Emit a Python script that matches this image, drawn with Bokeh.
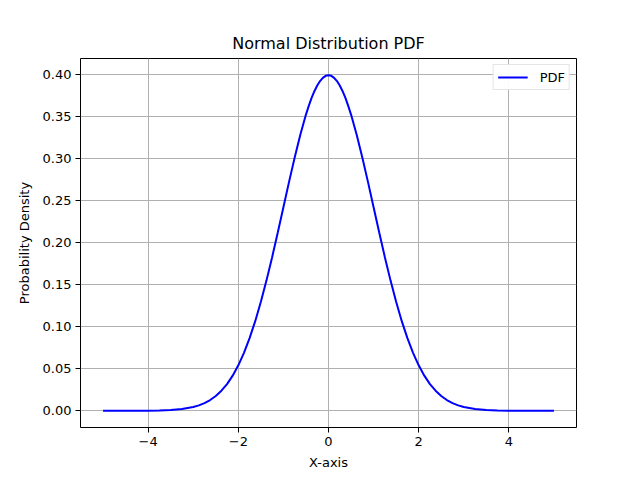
from bokeh.plotting import figure
from bokeh.models import FixedTicker, NumeralTickFormatter, Range1d
from bokeh.embed import file_html
from bokeh.resources import INLINE

# values
x = [-5.0, -4.5, -4.0, -3.75, -3.5, -3.25, -3.0, -2.875, -2.75, -2.625, -2.5, -2.375,
     -2.25, -2.125, -2.0, -1.875, -1.75, -1.625, -1.5, -1.375, -1.25, -1.125, -1.0,
     -0.875, -0.75, -0.625, -0.5, -0.4375, -0.375, -0.3125, -0.25, -0.1875, -0.125, -0.0625, 0.0,
     0.0625, 0.125, 0.1875, 0.25, 0.3125, 0.375, 0.4375, 0.5, 0.625, 0.75, 0.875, 1.0,
     1.125, 1.25, 1.375, 1.5, 1.625, 1.75, 1.875, 2.0, 2.125, 2.25, 2.375, 2.5,
     2.625, 2.75, 2.875, 3.0, 3.25, 3.5, 3.75, 4.0, 4.5, 5.0]
pdf = [0.0000, 0.0000, 0.0001, 0.0004, 0.0009, 0.0020, 0.0044, 0.0064, 0.0091, 0.0127, 0.0175, 0.0238,
       0.0317, 0.0417, 0.0540, 0.0688, 0.0863, 0.1065, 0.1295, 0.1550, 0.1826, 0.2119, 0.2420,
       0.2721, 0.3011, 0.3282, 0.3521, 0.3625, 0.3719, 0.3799, 0.3867, 0.3920, 0.3958, 0.3982, 0.3989,
       0.3982, 0.3958, 0.3920, 0.3867, 0.3799, 0.3719, 0.3625, 0.3521, 0.3282, 0.3011, 0.2721, 0.2420,
       0.2119, 0.1826, 0.1550, 0.1295, 0.1065, 0.0863, 0.0688, 0.0540, 0.0417, 0.0317, 0.0238, 0.0175,
       0.0127, 0.0091, 0.0064, 0.0044, 0.0020, 0.0009, 0.0004, 0.0001, 0.0000, 0.0000]
x_ticks = [-4, -2, 0, 2, 4]
y_ticks = [0.0, 0.05, 0.10, 0.15, 0.20, 0.25, 0.30, 0.35, 0.40]

font = "DejaVu Sans"

p = figure( width=624
          , height=472
          , output_backend="svg"
          , toolbar_location=None
          , x_range=Range1d(-5.5, 5.5)
          , y_range=Range1d(-0.01994, 0.4188)
          , title="Normal Distribution PDF"
          , min_border_left=80
          , min_border_right=48
          , min_border_top=58
          , min_border_bottom=45
          )
p.line(x, pdf, color="blue", line_width=2, legend_label="PDF")

p.title.align = "center"
p.title.text_font = font
p.title.text_font_size = "16px"
p.title.text_font_style = "normal"
p.title.text_color = "black"
p.title.offset = 0
p.title.standoff = 11

p.outline_line_color = "black"
p.outline_line_width = 1

for ax in (p.xaxis, p.yaxis):
  ax.major_label_text_font = font
  ax.major_label_text_font_size = "13px"
  ax.major_label_text_color = "black"
  ax.axis_label_text_font = font
  ax.axis_label_text_font_size = "13px"
  ax.axis_label_text_font_style = "normal"
  ax.axis_label_text_color = "black"
  ax.major_tick_out = 5
  ax.major_tick_in = 0
  ax.minor_tick_out = 0
  ax.minor_tick_in = 0
  ax.axis_line_color = None
  ax.major_tick_line_color = "black"

p.xaxis.ticker = FixedTicker(ticks=x_ticks)
p.xaxis.major_label_overrides = {-4: "\u22124", -2: "\u22122"}
p.xaxis.axis_label = "X-axis"
p.xaxis.major_label_standoff = 4
p.xaxis.axis_label_standoff = 6

p.yaxis.ticker = FixedTicker(ticks=y_ticks)
p.yaxis.formatter = NumeralTickFormatter(format="0.00")
p.yaxis.axis_label = "Probability Density"
p.yaxis.major_label_standoff = 4
p.yaxis.axis_label_standoff = 8

p.grid.grid_line_color = "#b0b0b0"
p.grid.grid_line_width = 1

p.legend.location = "top_right"
p.legend.label_text_font = font
p.legend.label_text_font_size = "13px"
p.legend.label_text_color = "black"
p.legend.border_line_color = "#cccccc"
p.legend.glyph_width = 30
p.legend.glyph_height = 16
p.legend.label_height = 16
p.legend.margin = 6
p.legend.padding = 4
p.legend.spacing = 0
p.legend.label_standoff = 12

open("out.html", "w").write(file_html(p, INLINE))
